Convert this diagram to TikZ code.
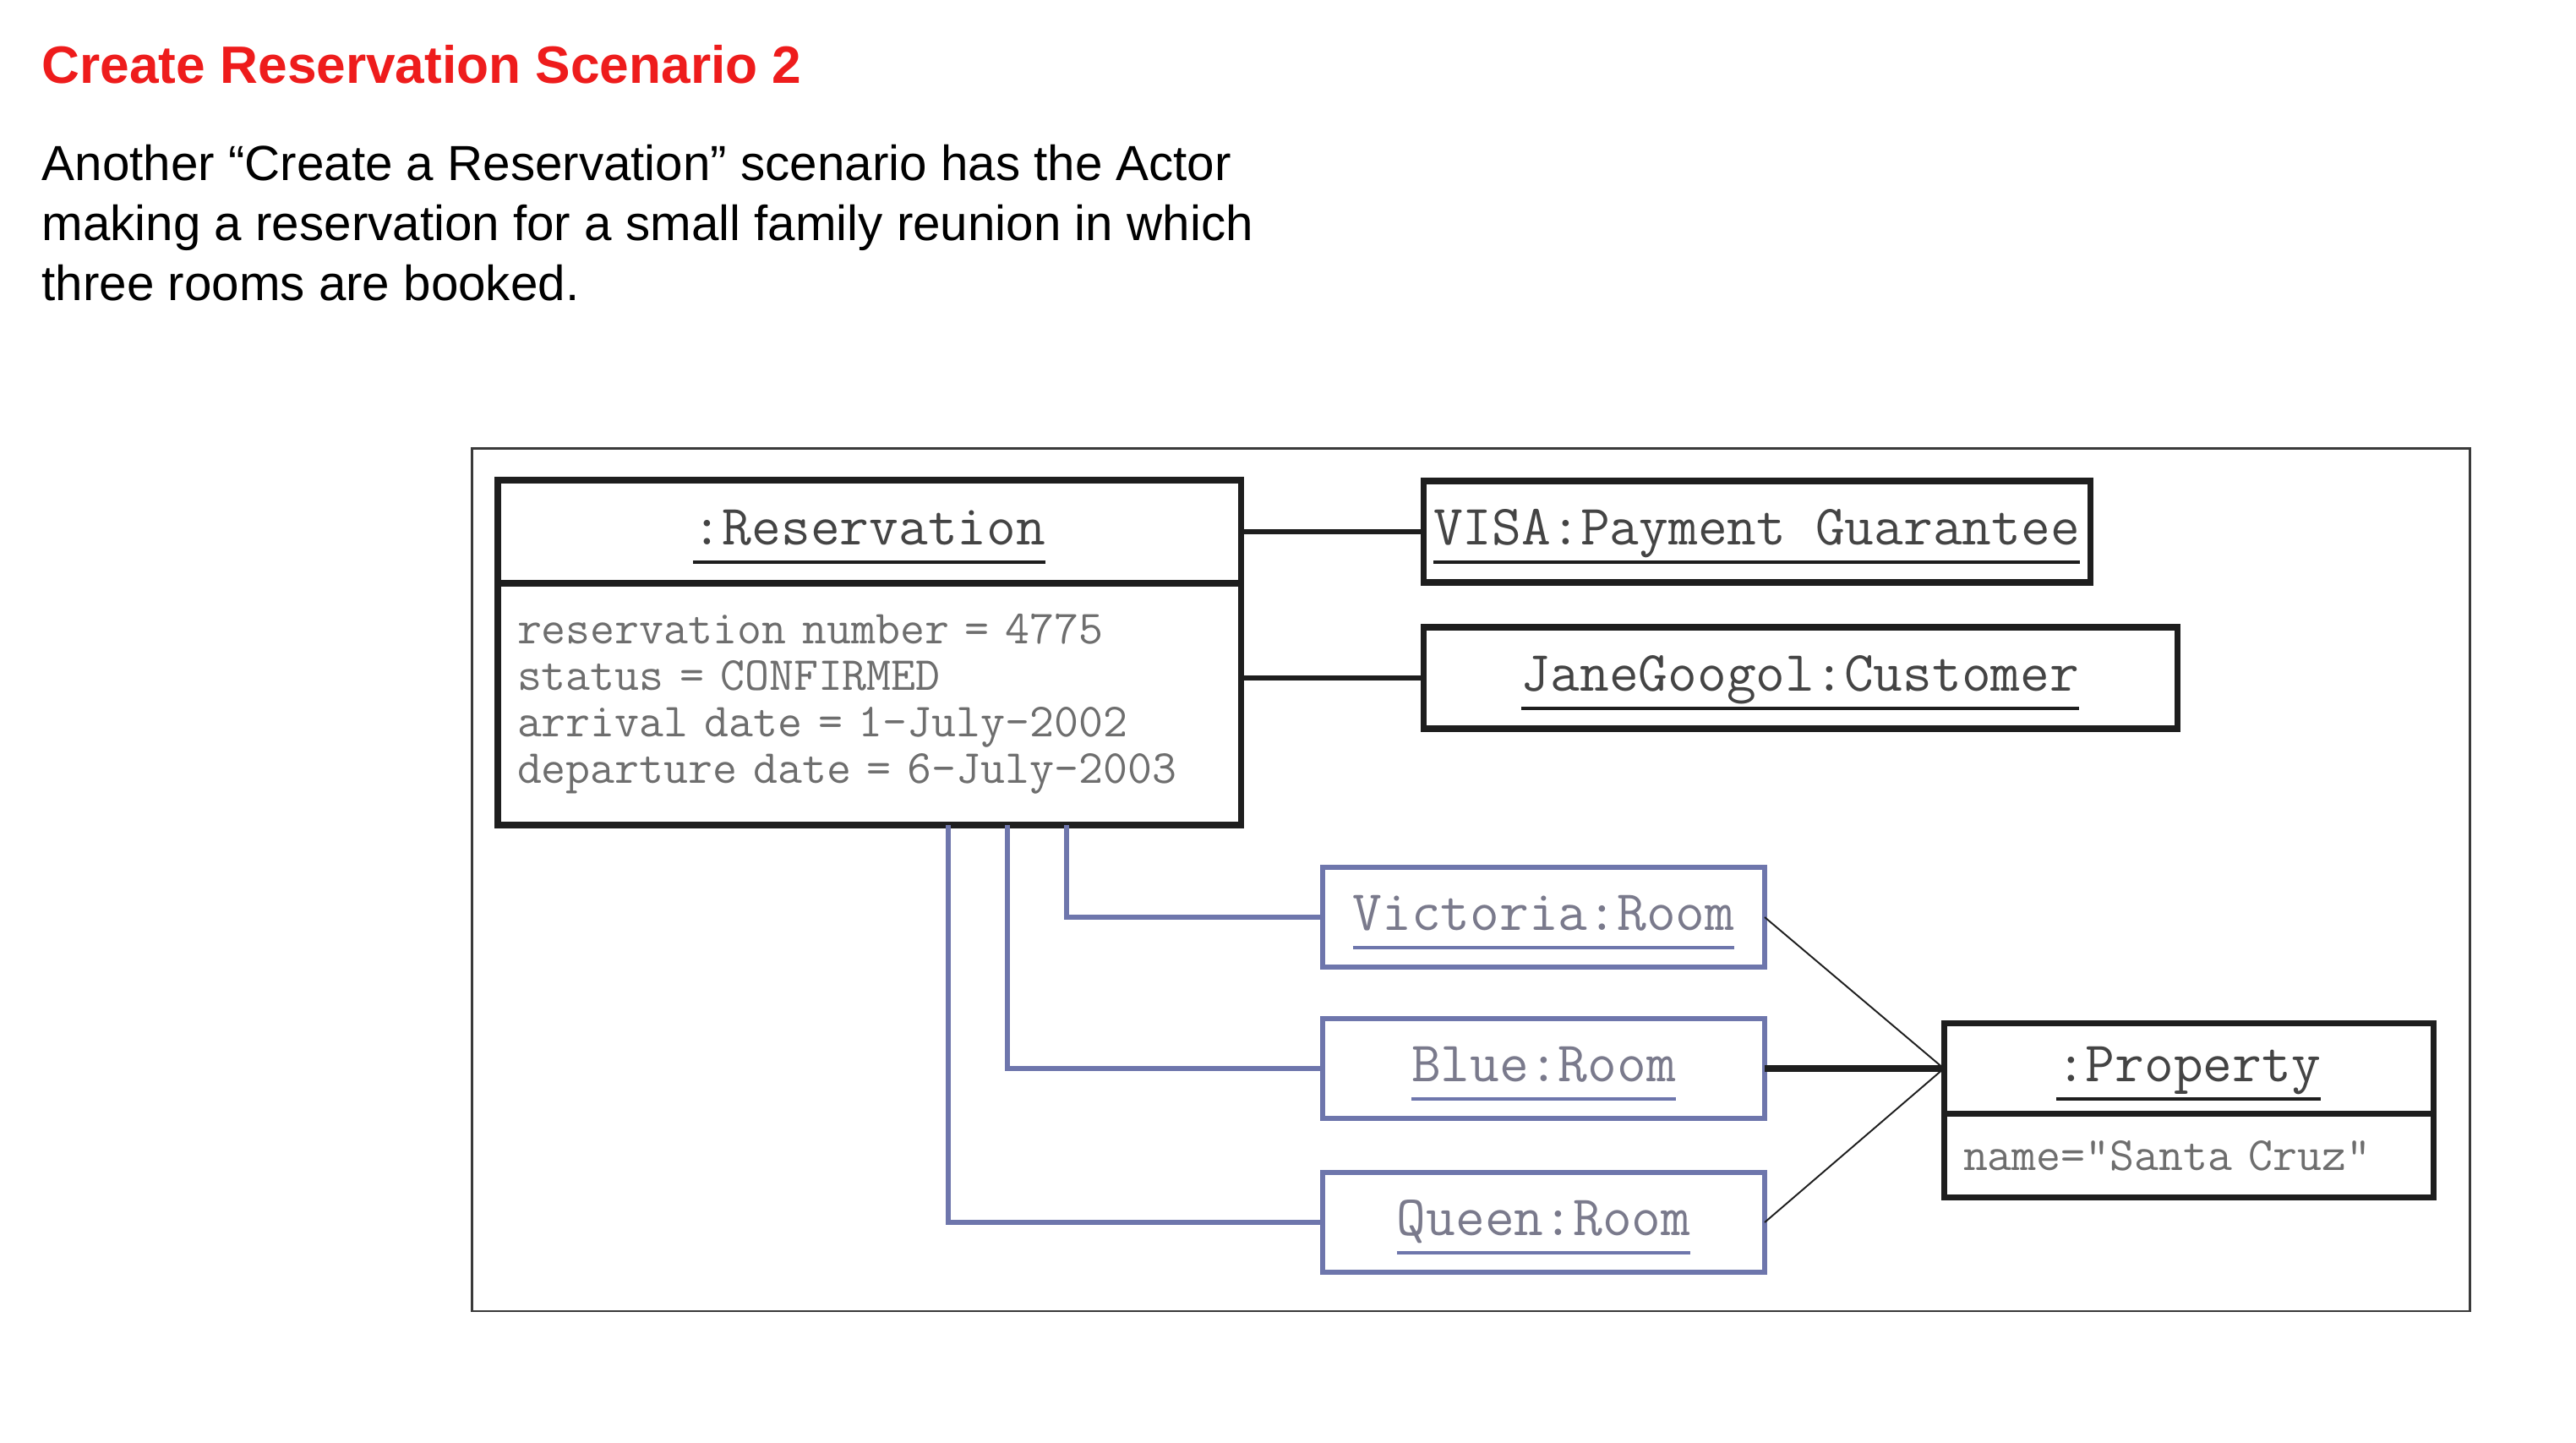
\documentclass[tikz,border=0pt]{standalone}
\usepackage{fontspec}
\setmainfont{Liberation Sans}
\usepackage{xcolor}
\usetikzlibrary{positioning}
\definecolor{UmlRed}{HTML}{EE1C1C}
\definecolor{UmlInk}{HTML}{1E1E1E}
\definecolor{UmlFrame}{HTML}{3A3A3A}
\definecolor{UmlRoom}{HTML}{6E76AC}
\definecolor{UmlText}{HTML}{444444}
\definecolor{UmlMuted}{HTML}{6E6E6E}
\definecolor{UmlRoomText}{HTML}{7A7A8C}
\newcommand{\objname}[2][UmlInk]{\setbox2\hbox{#2}\rlap{\color{#1}\vrule width\wd2 height -5.3pt depth 6.2pt}\box2}
\tikzset{
  uml obj/.style={
    draw=UmlInk,
    fill=white,
    text=UmlText,
    line width=2pt,
    outer sep=0pt,
    inner xsep=2pt,
    inner ysep=0pt,
    text height=9pt,
    text depth=0pt,
    minimum height=1.2cm,
    font=\fontsize{19.2}{22}\ttfamily
  },
  uml attrs/.style={
    draw=UmlInk,
    fill=white,
    text=UmlMuted,
    line width=2pt,
    outer sep=0pt,
    inner xsep=0.23cm,
    inner ysep=0pt,
    align=left,
    font=\fontsize{16}{15.7}\ttfamily
  },
  uml room/.style={
    draw=UmlRoom,
    fill=white,
    text=UmlRoomText,
    line width=1.7pt,
    outer sep=0pt,
    inner xsep=2pt,
    inner ysep=0pt,
    text height=9pt,
    text depth=0pt,
    minimum width=5.23cm,
    minimum height=1.18cm,
    font=\fontsize{19.2}{22}\ttfamily
  },
  uml frame/.style={draw=UmlFrame,line width=0.85pt},
  uml link/.style={draw=UmlInk,line width=1.65pt},
  uml room link/.style={draw=UmlRoom,line width=1.5pt},
  uml thin link/.style={draw=UmlInk,line width=0.55pt},
  uml bold link/.style={draw=UmlInk,line width=2.2pt}
}

\begin{document}
\begin{tikzpicture}[node distance=6mm and 8mm]
  \useasboundingbox (0,0) rectangle (30.48,-17.07);

  \node[anchor=base west,inner sep=0pt,text=UmlRed,font=\fontsize{17.7}{21}\selectfont\bfseries] (title) at (0.49,-0.99) {Create Reservation Scenario 2};
  \node[anchor=north west,inner sep=0pt,align=left,font=\fontsize{16.6}{20.2}\selectfont] (intro) at (0.49,-1.71) {Another “Create a Reservation” scenario has the Actor\\making a reservation for a small family reunion in which\\three rooms are booked.};

  \draw[uml frame] (5.58,-5.31) rectangle (29.22,-15.51);

  \node[uml obj,minimum width=8.79cm,minimum height=1.22cm,anchor=north west] (resHead) at (5.89,-5.68) {\objname{:Reservation}};
  \node[uml attrs,text width=8.33cm,minimum height=2.86cm,below=0pt of resHead] (resBody) {reservation number = 4775\\status = CONFIRMED\\arrival date = 1-July-2002\\departure date = 6-July-2003};

  \node[uml obj,inner xsep=0pt,minimum width=7.89cm,right=2.16cm of resHead] (visa) {\objname{VISA:Payment Guarantee}};
  \node[uml obj,minimum width=8.92cm,below right=0.53cm and 0cm of visa.south west] (jane) {\objname{JaneGoogol:Customer}};

  \node[uml room,below right=0.50cm and 0.97cm of resBody.south east] (victoria) {\objname[UmlRoom]{Victoria:Room}};
  \node[uml room,below=0.61cm of victoria] (blue) {\objname[UmlRoom]{Blue:Room}};
  \node[uml room,below=0.64cm of blue] (queen) {\objname[UmlRoom]{Queen:Room}};

  \node[uml obj,minimum width=5.79cm,minimum height=1.07cm,right=2.12cm of blue] (propHead) {\objname{:Property}};
  \node[uml attrs,text width=5.33cm,minimum height=0.99cm,below=0pt of propHead] (propBody) {name="Santa Cruz"};

  \draw[uml link] (visa.west) -- (visa.west -| resHead.east);
  \draw[uml link] (jane.west) -- (jane.west -| resBody.east);

  \draw[uml room link] ([xshift=-2.06cm]resBody.south east) |- (victoria.west);
  \draw[uml room link] ([xshift=-2.76cm]resBody.south east) |- (blue.west);
  \draw[uml room link] ([xshift=-3.46cm]resBody.south east) |- (queen.west);

  \draw[uml thin link] (victoria.east) -- (propHead.west);
  \draw[uml bold link] (blue.east) -- (propHead.west);
  \draw[uml thin link] (queen.east) -- (propHead.west);
\end{tikzpicture}
\end{document}
